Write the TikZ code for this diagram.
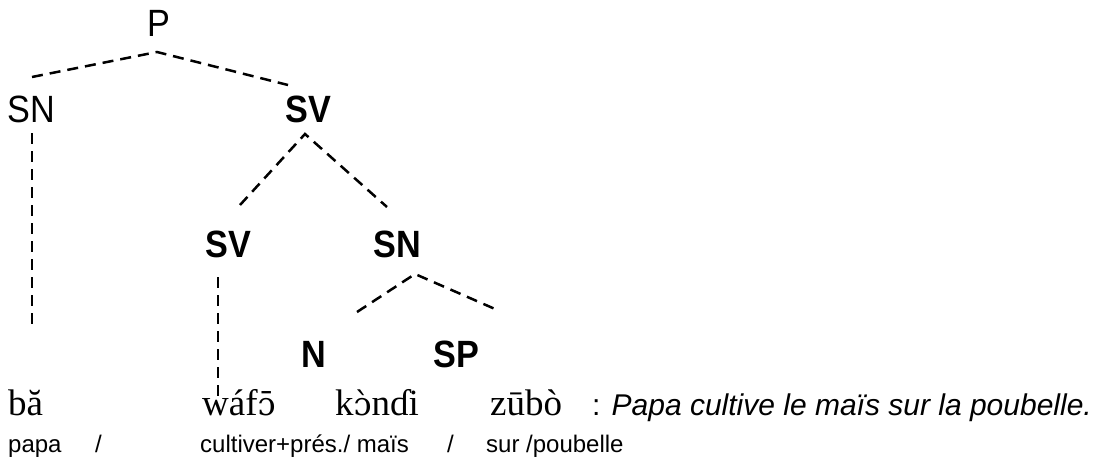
\documentclass[tikz,border=0pt]{standalone}
\usepackage{fontspec}
\setmainfont{Liberation Serif}
\setsansfont{Liberation Sans}
\newfontfamily\narrowsf[FakeStretch=0.9]{Liberation Sans}
\newfontfamily\ipafont[Scale=0.87]{DejaVu Serif}

\begin{document}
\begin{tikzpicture}[
  x=1pt, y=-1pt,
  cat/.style={inner sep=0pt, anchor=base, font=\narrowsf\fontsize{38}{44}\selectfont},
  catb/.style={cat, font=\narrowsf\bfseries\fontsize{38}{44}\selectfont},
  word/.style={inner sep=0pt, anchor=base west, font=\fontsize{37}{44}\selectfont},
  gloss/.style={inner sep=0pt, anchor=base west, font=\sffamily\fontsize{24}{28}\selectfont},
  branch/.style={line width=2.5pt, dash pattern=on 11pt off 7pt}
]
\useasboundingbox (0,0) rectangle (1105,463);
\node[cat] (p) at (159,36) {P};
\node[cat] (sn1) at (31,122) {SN};
\node[catb] (sv1) at (308,122) {SV};
\node[catb] (sv2) at (228,257) {SV};
\node[catb] (sn2) at (397,257) {SN};
\node[catb] (n) at (314,367) {N};
\node[catb] (sp) at (456,367) {SP};
\node[word] (ba) at (8,415) {bă};
\node[word] (wafo) at (202,415) {wáf{\ipafont ɔ̄}};
\node[word] (kondi) at (335,415) {k{\ipafont ɔ̀}nɗi};
\node[word] (zubo) at (490,415) {zūbò};
\node[word, font=\sffamily\fontsize{30}{34}\selectfont] (trad) at (592,415) {: \textit{Papa cultive le maïs sur la poubelle.}};
\node[gloss] (g1) at (8,452) {papa};
\node[gloss] (g2) at (95,452) {/};
\node[gloss] (g3) at (200,452) {cultiver+prés./ maïs};
\node[gloss] (g4) at (447,452) {/};
\node[gloss] (g5) at (486,452) {sur /poubelle};
\coordinate (sn1end) at (32,329);
\draw[branch] ([xshift=1pt,yshift=45pt]sn1.base) -- ([xshift=-2pt,yshift=-16pt]p.base) -- ([xshift=-20pt,yshift=37pt]sv1.base);
\draw[branch] ([xshift=12pt,yshift=52pt]sv2.base) -- ([xshift=-3pt,yshift=-12pt]sv1.base) -- ([xshift=-10pt,yshift=50pt]sn2.base);
\draw[branch] ([xshift=43pt,yshift=55pt]n.base) -- ([xshift=18pt,yshift=-17pt]sn2.base) -- ([xshift=39pt,yshift=58pt]sp.base);
\draw[branch] ([xshift=1pt,yshift=-11pt]sn1.base) -- (sn1end);
\draw[branch] ([xshift=-10pt,yshift=-20pt]sv2.base) -- ([xshift=16pt,yshift=15pt]wafo.base west);
\end{tikzpicture}
\end{document}
